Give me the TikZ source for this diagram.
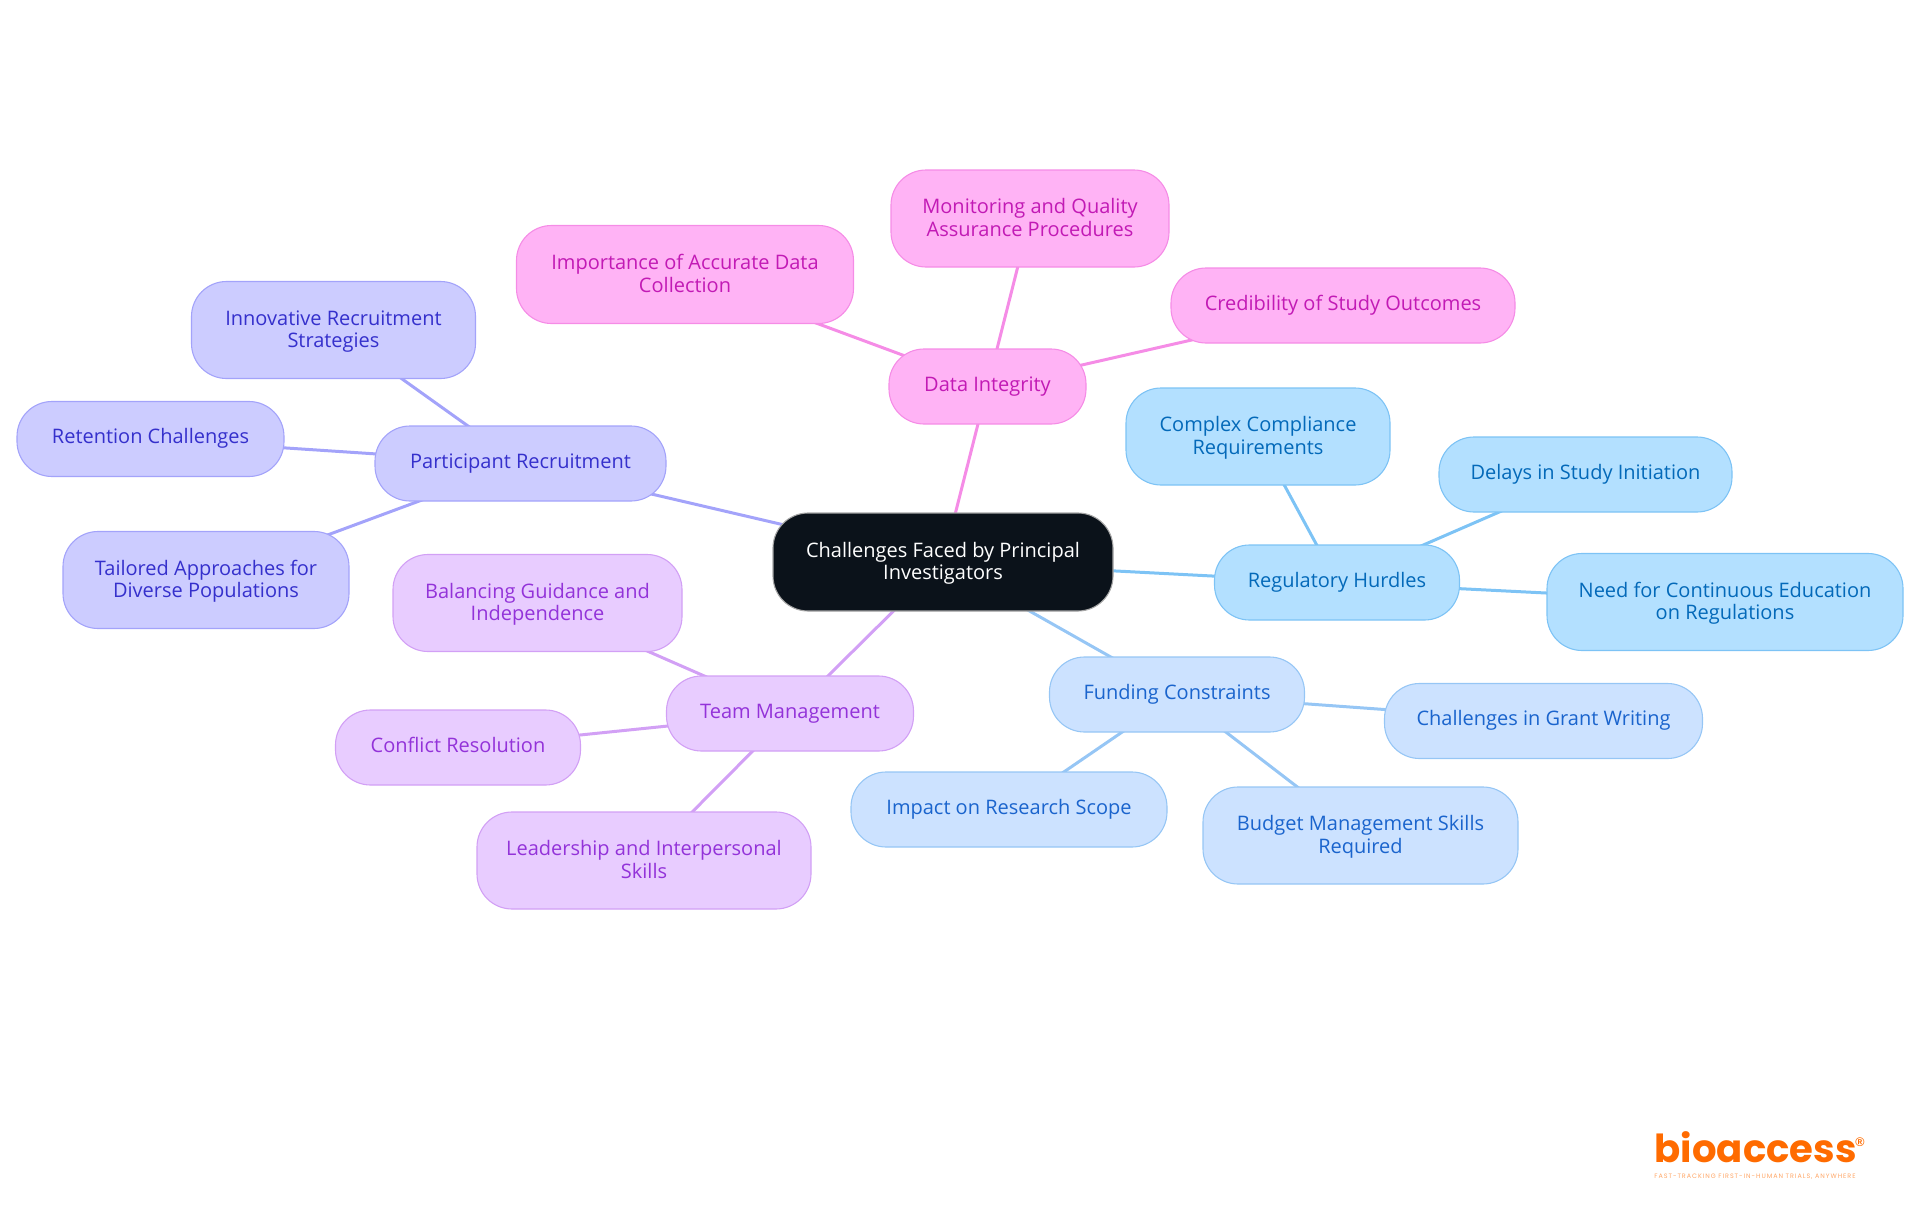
\documentclass[tikz,border=0pt]{standalone}
\usepackage{fontspec}
\setmainfont{Open Sans}
\newfontfamily\logofont{Poppins}
\newfontfamily\tagfont[LetterSpace=15]{Poppins}
\newfontfamily\markfont{Liberation Sans}
\usetikzlibrary{backgrounds}
\definecolor{rootfill}{RGB}{11, 18, 26}
\definecolor{pinkfill}{RGB}{255, 179, 245}
\definecolor{pinkline}{RGB}{245, 140, 230}
\definecolor{pinktext}{RGB}{194, 26, 181}
\definecolor{purplefill}{RGB}{232, 204, 255}
\definecolor{purpleline}{RGB}{210, 160, 245}
\definecolor{purpletext}{RGB}{147, 51, 217}
\definecolor{indigofill}{RGB}{204, 204, 255}
\definecolor{indigoline}{RGB}{163, 163, 250}
\definecolor{indigotext}{RGB}{53, 48, 204}
\definecolor{skyfill}{RGB}{179, 224, 255}
\definecolor{skyline}{RGB}{125, 195, 245}
\definecolor{skytext}{RGB}{3, 105, 185}
\definecolor{bluefill}{RGB}{204, 226, 255}
\definecolor{blueline}{RGB}{150, 198, 245}
\definecolor{bluetext}{RGB}{26, 100, 205}
\definecolor{logoorange}{RGB}{255, 107, 0}
\newcommand{\toprow}{\rule{0pt}{20pt}}

\begin{document}
\begin{tikzpicture}[
        x=1pt, y=-1pt,
        box/.style={rectangle, rounded corners=35pt, align=center, line width=1.1pt,
            font=\fontsize{20}{22.5}\selectfont,
            execute at begin node=\strut, execute at end node=\strut},
        rootbox/.style={box, fill=rootfill, draw=gray!70, text=white},
        pinkbox/.style={box, fill=pinkfill, draw=pinkline, text=pinktext},
        purplebox/.style={box, fill=purplefill, draw=purpleline, text=purpletext},
        indigobox/.style={box, fill=indigofill, draw=indigoline, text=indigotext},
        skybox/.style={box, fill=skyfill, draw=skyline, text=skytext},
        bluebox/.style={box, fill=bluefill, draw=blueline, text=bluetext},
        link/.style={line width=3pt}
    ]
        \useasboundingbox (0,0) rectangle (1920,1215);

        \node (1) [rootbox, minimum width=340pt, minimum height=98pt] at (943,562)
            {\toprow Challenges Faced by Principal\\Investigators};

        % data integrity
        \node (2) [pinkbox, minimum width=197pt, minimum height=75pt] at (987.5,386.5) {Data Integrity};
        \node (3) [pinkbox, minimum width=278pt, minimum height=97pt] at (1030,218.5)
            {\toprow Monitoring and Quality\\Assurance Procedures};
        \node (4) [pinkbox, minimum width=337pt, minimum height=98pt] at (685,274.5)
            {\toprow Importance of Accurate Data\\Collection};
        \node (5) [pinkbox, minimum width=344pt, minimum height=75pt] at (1343,305.5) {Credibility of Study Outcomes};

        % regulatory
        \node (6) [skybox, minimum width=245pt, minimum height=75pt] at (1337,582.5) {Regulatory Hurdles};
        \node (7) [skybox, minimum width=264pt, minimum height=97pt] at (1258,436.5)
            {\toprow Complex Compliance\\Requirements};
        \node (8) [skybox, minimum width=293pt, minimum height=75pt] at (1585.5,474.5) {Delays in Study Initiation};
        \node (9) [skybox, minimum width=356pt, minimum height=97pt] at (1725,602)
            {\toprow Need for Continuous Education\\on Regulations};

        % funding
        \node (10) [bluebox, minimum width=255pt, minimum height=75pt] at (1177,694.5) {Funding Constraints};
        \node (11) [bluebox, minimum width=318pt, minimum height=75pt] at (1543.5,721) {Challenges in Grant Writing};
        \node (12) [bluebox, minimum width=316pt, minimum height=75pt] at (1009,809.5) {Impact on Research Scope};
        \node (13) [bluebox, minimum width=315pt, minimum height=97pt] at (1360.5,835.5)
            {\toprow Budget Management Skills\\Required};

        % team
        \node (14) [purplebox, minimum width=247pt, minimum height=75pt] at (790,713.5) {Team Management};
        \node (15) [purplebox, minimum width=289pt, minimum height=97pt] at (537.5,603)
            {\toprow Balancing Guidance and\\Independence};
        \node (16) [purplebox, minimum width=245pt, minimum height=75pt] at (458,747.5) {Conflict Resolution};
        \node (17) [purplebox, minimum width=334pt, minimum height=97pt] at (644,860.5)
            {\toprow Leadership and Interpersonal\\Skills};

        % recruitment
        \node (18) [indigobox, minimum width=291pt, minimum height=75pt] at (520.5,463.5) {Participant Recruitment};
        \node (19) [indigobox, minimum width=284pt, minimum height=97pt] at (333.5,330)
            {\toprow Innovative Recruitment\\Strategies};
        \node (20) [indigobox, minimum width=267pt, minimum height=75pt] at (150.5,439) {Retention Challenges};
        \node (21) [indigobox, minimum width=286pt, minimum height=97pt] at (206,580)
            {\toprow Tailored Approaches for\\Diverse Populations};

        \begin{pgfonlayer}{background}
            \draw[link, pinkline] (1.center) -- (2.center);
            \draw[link, pinkline] (2.center) -- (3.center);
            \draw[link, pinkline] (2.center) -- (4.center);
            \draw[link, pinkline] (2.center) -- (5.center);
            \draw[link, skyline] (1.center) -- (6.center);
            \draw[link, skyline] (6.center) -- (7.center);
            \draw[link, skyline] (6.center) -- (8.center);
            \draw[link, skyline] (6.center) -- (9.center);
            \draw[link, blueline] (1.center) -- (10.center);
            \draw[link, blueline] (10.center) -- (11.center);
            \draw[link, blueline] (10.center) -- (12.center);
            \draw[link, blueline] (10.center) -- (13.center);
            \draw[link, purpleline] (1.center) -- (14.center);
            \draw[link, purpleline] (14.center) -- (15.center);
            \draw[link, purpleline] (14.center) -- (16.center);
            \draw[link, purpleline] (14.center) -- (17.center);
            \draw[link, indigoline] (1.center) -- (18.center);
            \draw[link, indigoline] (18.center) -- (19.center);
            \draw[link, indigoline] (18.center) -- (20.center);
            \draw[link, indigoline] (18.center) -- (21.center);
        \end{pgfonlayer}

        % logo
        \node (22) [text=logoorange, inner sep=0pt, anchor=base west, font=\logofont\fontsize{38.6}{38.6}\selectfont\bfseries] at (1654.5,1162) {bioaccess};
        \node (23) [text=logoorange, inner sep=0pt, font=\markfont\fontsize{12.5}{12.5}\selectfont\bfseries] at (1860,1142) {®};
        \node (24) [text=logoorange!60, inner sep=0pt, font=\tagfont\fontsize{6.4}{7}\selectfont] at (1755,1177) {FAST-TRACKING FIRST-IN-HUMAN TRIALS, ANYWHERE};
    \end{tikzpicture}
\end{document}
